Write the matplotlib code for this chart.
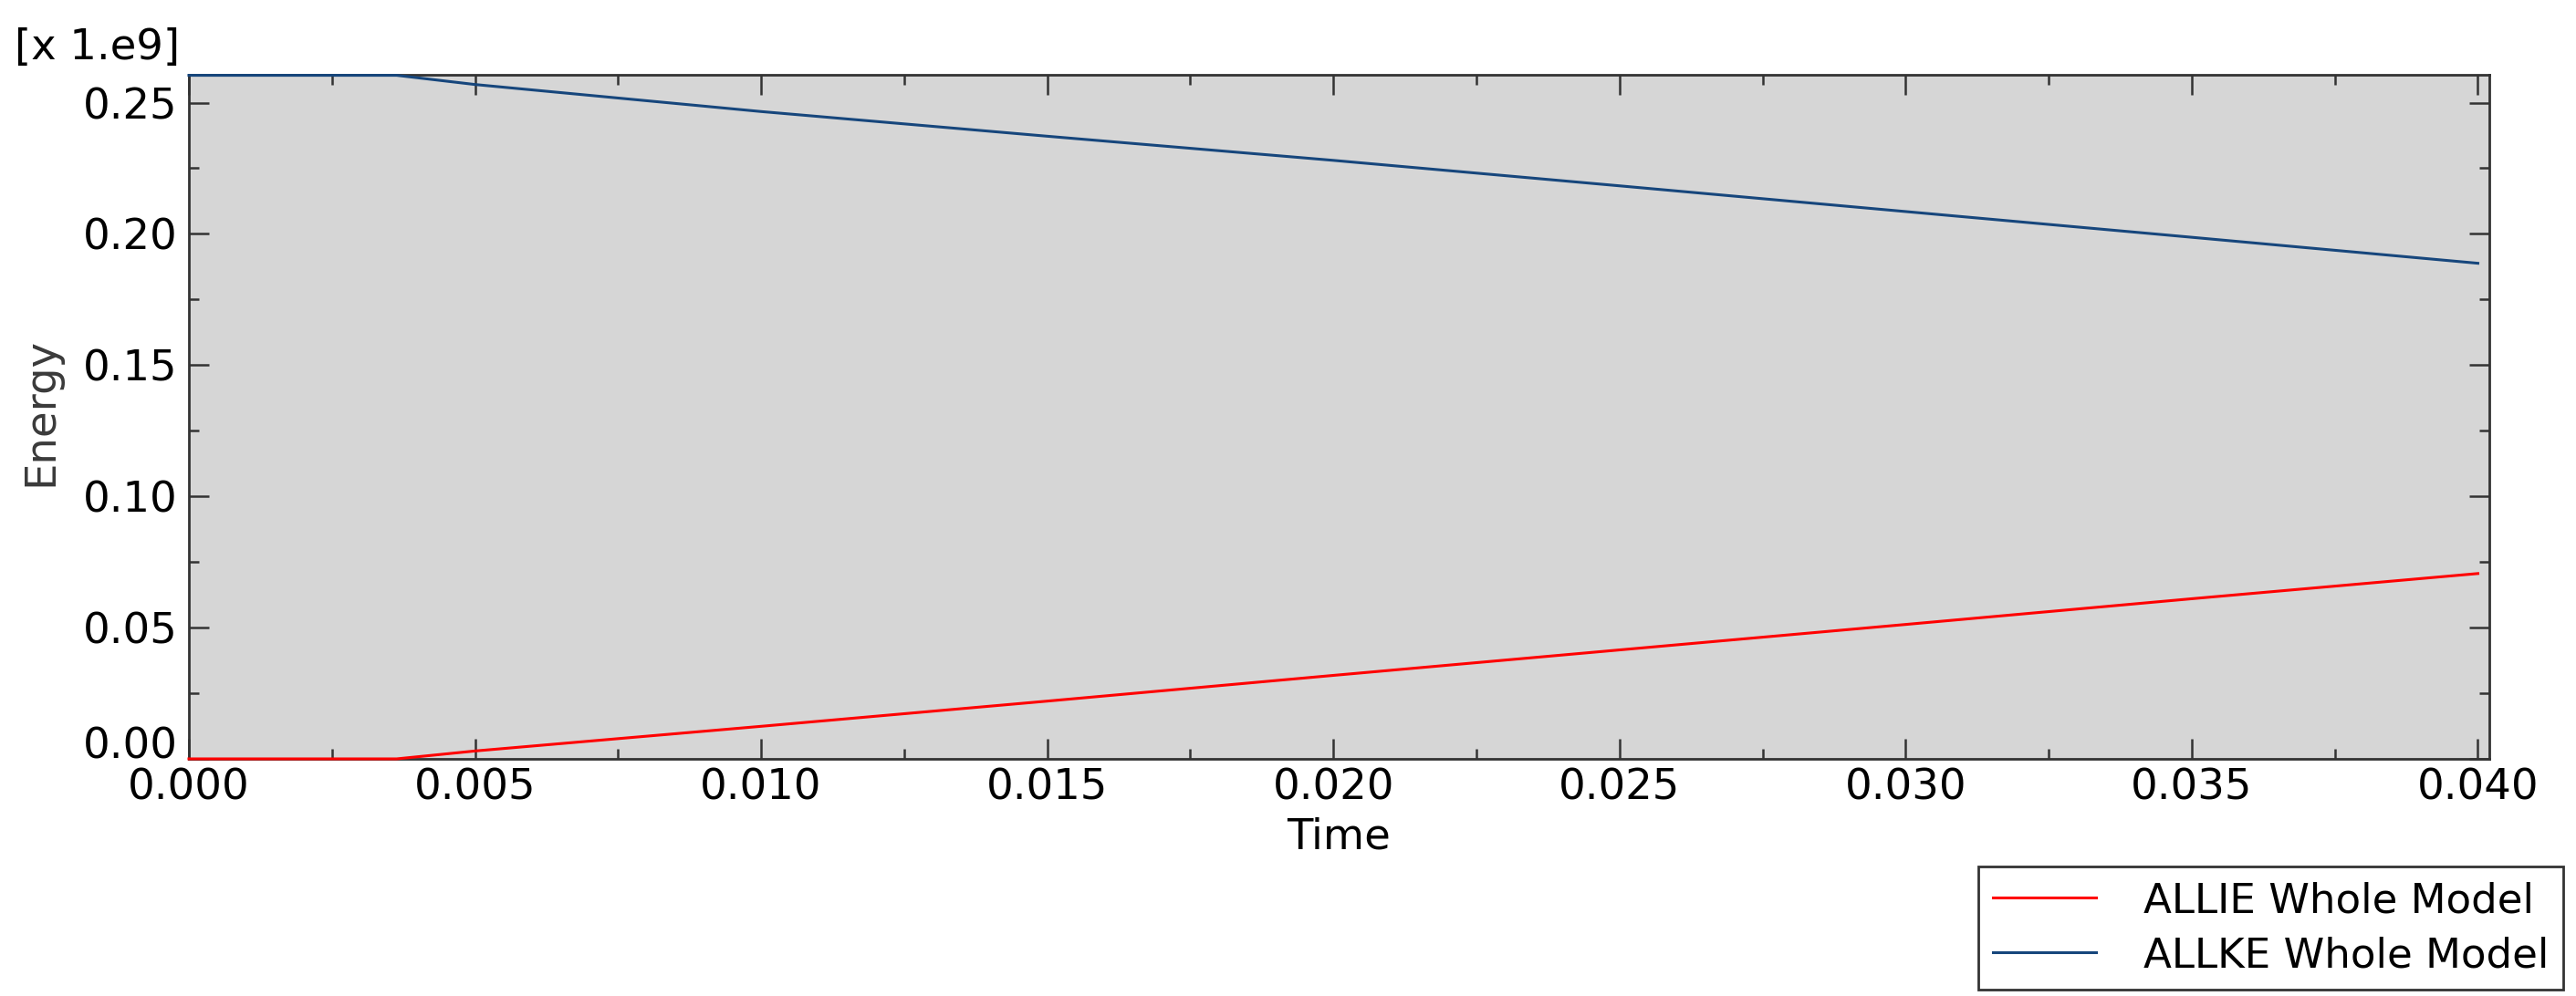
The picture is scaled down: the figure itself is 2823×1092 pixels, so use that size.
import matplotlib
matplotlib.use("Agg")
import matplotlib.pyplot as plt
from matplotlib.ticker import MultipleLocator, FixedLocator, FormatStrFormatter

# Data (energy in units of 1e9)
time = [0.0, 0.00363, 0.005, 0.010, 0.015, 0.020, 0.025, 0.030, 0.035, 0.040]
allie = [0.0, 0.0, 0.0030, 0.0124, 0.0220, 0.0318, 0.0415, 0.0512, 0.0610, 0.0706]
allke = [0.2604, 0.2604, 0.2569, 0.2466, 0.2372, 0.2280, 0.2183, 0.2085, 0.1987, 0.1888]
series_labels = ["ALLIE Whole Model", "ALLKE Whole Model"]
x_ticks = [0.000, 0.005, 0.010, 0.015, 0.020, 0.025, 0.030, 0.035, 0.040]
y_ticks = [0.00, 0.05, 0.10, 0.15, 0.20, 0.25]
x_label = "Time"
y_label = "Energy"
scale_label = "[x 1.e9]"

plt.rcParams['font.family'] = ['DejaVu Sans']
FS = 33.5
LFS = 32.5

W, H = 2823, 1092
fig = plt.figure(figsize=(W / 100, H / 100), dpi=100)
ax = fig.add_axes([207 / W, 1 - 832 / H, (2728 - 207) / W, (832 - 82) / H])
ax.set_facecolor('#D6D6D6')

l1, = ax.plot(time, allie, color='#FF0000', lw=2.2, label=series_labels[0],
              clip_on=False, zorder=5)
l2, = ax.plot(time, allke, color='#16467C', lw=2.2, label=series_labels[1],
              clip_on=False, zorder=5)

ax.set_xlim(0, 0.0402)
ax.set_ylim(0, 0.2606)

ax.xaxis.set_major_locator(FixedLocator(x_ticks))
ax.xaxis.set_minor_locator(MultipleLocator(0.0025))
ax.yaxis.set_major_locator(FixedLocator(y_ticks))
ax.yaxis.set_minor_locator(MultipleLocator(0.025))
ax.xaxis.set_major_formatter(FormatStrFormatter('%.3f'))
ax.yaxis.set_major_formatter(FormatStrFormatter('%.2f'))

ax.tick_params(which='both', direction='in', top=True, right=True,
               color='#333333', width=1.8)
ax.tick_params(which='major', length=16, labelsize=FS)
ax.tick_params(axis='x', which='major', pad=7)
ax.tick_params(axis='y', which='major', pad=9)
ax.tick_params(which='minor', length=8)

# bottom y label sits on the axis line, as in the reference
ax.yaxis.get_major_ticks()[0].label1.set_va('baseline')

for s in ax.spines.values():
    s.set_color('#333333')
    s.set_linewidth(2.0)

ax.set_xlabel(x_label, fontsize=FS, color='black')
ax.xaxis.label.set_va('center')
ax.xaxis.set_label_coords(0.5, -(918 - 832) / (832 - 82))

fig.text(45 / W, 1 - 451 / H, y_label, fontsize=FS, color='#3a3a3a',
         rotation=90, ha='center', va='center')
fig.text(16 / W, 1 - 52 / H, scale_label, fontsize=FS, color='black',
         ha='left', va='center')

leg = fig.legend(handles=[l1, l2], loc='lower right',
                 bbox_to_anchor=(2809 / W, 1 - 1085 / H),
                 bbox_transform=fig.transFigure, borderaxespad=0,
                 fontsize=LFS, frameon=True, fancybox=False,
                 handlelength=2.5, handletextpad=1.15, borderpad=0.35,
                 labelspacing=0.38)
leg.get_frame().set_edgecolor('#333333')
leg.get_frame().set_linewidth(2.0)
leg.get_frame().set_facecolor('white')
leg.get_frame().set_alpha(1)

fig.savefig('out.png', dpi=100, facecolor='white')
